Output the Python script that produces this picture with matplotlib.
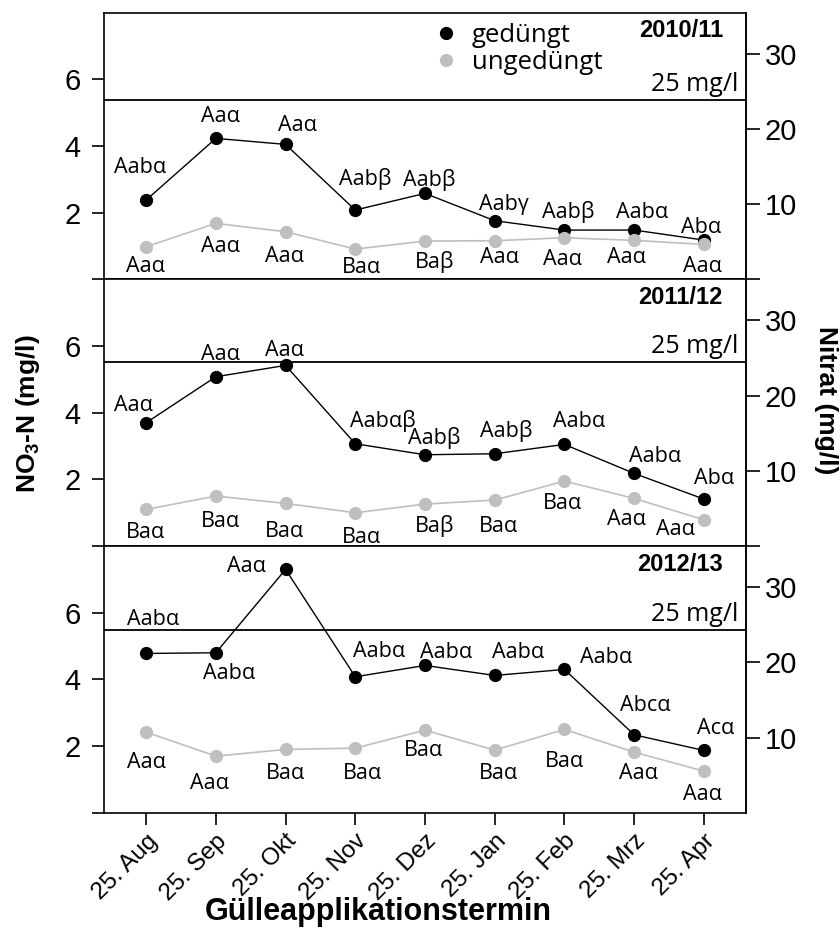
import matplotlib.pyplot as plt
from matplotlib.lines import Line2D

plt.rcParams['font.family'] = ['Liberation Sans', 'DejaVu Sans']
plt.rcParams['mathtext.fontset'] = 'custom'
plt.rcParams['mathtext.rm'] = 'Liberation Sans'
plt.rcParams['mathtext.bf'] = 'Liberation Sans:bold'

termine = ['25. Aug', '25. Sep', '25. Okt', '25. Nov', '25. Dez',
           '25. Jan', '25. Feb', '25. Mrz', '25. Apr']
jahre = ['2010/11', '2011/12', '2012/13']

# NO3-N (mg/l)
ged_2010 = [2.38, 4.23, 4.05, 2.08, 2.58, 1.76, 1.48, 1.48, 1.18]
ung_2010 = [0.98, 1.68, 1.43, 0.91, 1.15, 1.16, 1.25, 1.17, 1.05]
ged_2011 = [3.70, 5.08, 5.42, 3.07, 2.74, 2.77, 3.05, 2.18, 1.41]
ung_2011 = [1.10, 1.50, 1.28, 1.00, 1.26, 1.38, 1.95, 1.43, 0.79]
ged_2012 = [4.78, 4.80, 7.30, 4.08, 4.42, 4.12, 4.30, 2.34, 1.87]
ung_2012 = [2.42, 1.70, 1.90, 1.94, 2.48, 1.88, 2.50, 1.82, 1.25]

# signifikanz buchstaben
sig_ged_2010 = ['Aabα', 'Aaα', 'Aaα', 'Aabβ', 'Aabβ', 'Aabγ', 'Aabβ', 'Aabα', 'Abα']
sig_ung_2010 = ['Aaα', 'Aaα', 'Aaα', 'Baα', 'Baβ', 'Aaα', 'Aaα', 'Aaα', 'Aaα']
sig_ged_2011 = ['Aaα', 'Aaα', 'Aaα', 'Aabαβ', 'Aabβ', 'Aabβ', 'Aabα', 'Aabα', 'Abα']
sig_ung_2011 = ['Baα', 'Baα', 'Baα', 'Baα', 'Baβ', 'Baα', 'Baα', 'Aaα', 'Aaα']
sig_ged_2012 = ['Aabα', 'Aabα', 'Aaα', 'Aabα', 'Aabα', 'Aabα', 'Aabα', 'Abcα', 'Acα']
sig_ung_2012 = ['Aaα', 'Aaα', 'Baα', 'Baα', 'Baα', 'Baα', 'Baα', 'Aaα', 'Aaα']

# 25 mg/l nitrat grenze (in NO3-N wie im bild)
grenze = [5.38, 5.52, 5.47]
faktor = 4.43  # NO3-N -> Nitrat

# label versatz in pixel (dx, dy nach unten)
off_ged = [
    [(-6.5, -33), (5, -22), (12, -19), (10, -31), (4.5, -13), (9, -16), (3.5, -18), (8, -18), (-2.6, -13)],
    [(-13, -17), (5, -22), (-1, -15), (28, -23), (9.5, -17), (11, -23), (15, -23), (21, -17), (10, -21)],
    [(6.5, -34), (13, 21), (-39, -3), (24, -25), (21, -13), (23, -23), (42, -12), (11, -29), (12, -22)],
]
off_ung = [
    [(-1, 20), (5, 23), (-1, 25), (6, 18), (9.5, 21), (5, 17), (-2, 22), (-8, 17), (-1.3, 22)],
    [(-1, 23), (5, 25), (-1.5, 28), (6.5, 25), (9.5, 22), (3.5, 26), (-2, 22.6), (-8, 21), (-28, 10)],
    [(0, 30), (-6, 27), (0, 24), (7, 25), (-2, 20), (4, 23), (0, 32), (4, 21), (-1, 23)],
]

ged = [ged_2010, ged_2011, ged_2012]
ung = [ung_2010, ung_2011, ung_2012]
sig_ged = [sig_ged_2010, sig_ged_2011, sig_ged_2012]
sig_ung = [sig_ung_2010, sig_ung_2011, sig_ung_2012]

grau = '#bfbfbf'
label_font = ['Open Sans', 'DejaVu Sans']

fig = plt.figure(figsize=(8.4, 9.41), dpi=100)
links = 104.3 / 840
breite = 641.4 / 840
hoehe = 266.7 / 941
oben = 12.7 / 941

x = list(range(len(termine)))
for i in range(3):
    unten = 1 - oben - (i + 1) * hoehe
    ax = fig.add_axes([links, unten, breite, hoehe])
    ax.set_xlim(-0.6, 8.6)
    ax.set_ylim(0, 8)
    for s in ax.spines.values():
        s.set_linewidth(1.2)

    ax.axhline(grenze[i], color='black', lw=1.3, zorder=1)
    ax.annotate('25 mg/l', xy=(0.988, grenze[i]), xycoords=('axes fraction', 'data'),
                xytext=(0, 3), textcoords='offset pixels', ha='right', va='bottom',
                fontsize=18, family=label_font)

    ax.plot(x, ged[i], color='black', lw=1.0, marker='o', ms=8.5, zorder=3)
    ax.plot(x, ung[i], color=grau, lw=1.2, marker='o', ms=8.5, mec=grau, zorder=4)

    for j in x:
        dx, dy = off_ged[i][j]
        ax.annotate(sig_ged[i][j], (j, ged[i][j]), xytext=(dx, -dy), textcoords='offset pixels',
                    ha='center', va='center', fontsize=15.5, family=label_font, zorder=5)
        dx, dy = off_ung[i][j]
        ax.annotate(sig_ung[i][j], (j, ung[i][j]), xytext=(dx, -dy), textcoords='offset pixels',
                    ha='center', va='center', fontsize=15.5, family=label_font, zorder=5)

    ax.text(0.9646, 0.932, jahre[i], transform=ax.transAxes, ha='right', va='center',
            fontsize=17, fontweight='bold')

    ax.set_yticks([0, 2, 4, 6])
    ax.set_yticklabels(['', '2', '4', '6'])
    ax.tick_params(axis='y', direction='out', length=9, width=1.2, labelsize=21, pad=8)

    sec = ax.secondary_yaxis('right', functions=(lambda v: v * faktor, lambda v: v / faktor))
    if i < 2:
        sec.set_yticks([0, 10, 20, 30])
        sec.set_yticklabels(['', '10', '20', '30'])
    else:
        sec.set_yticks([10, 20, 30])
    sec.tick_params(direction='out', length=10, width=1.2, labelsize=21, pad=3.5)
    sec.spines['right'].set_linewidth(1.2)

    if i == 0:
        handles = [Line2D([], [], ls='none', marker='o', ms=8.5, color='black', label='gedüngt'),
                   Line2D([], [], ls='none', marker='o', ms=8.5, color=grau, label='ungedüngt')]
        leg = ax.legend(handles=handles, loc='upper left', bbox_to_anchor=(0.5128, 0.962),
                        frameon=False, borderpad=0, borderaxespad=0, handlelength=1.0,
                        handletextpad=0.5, labelspacing=0.1, prop={'family': label_font, 'size': 18.5})

    if i < 2:
        ax.tick_params(axis='x', bottom=False, labelbottom=False)
    else:
        ax.set_xticks(x)
        ax.set_xticklabels(termine, rotation=45, ha='right', va='top', rotation_mode='anchor',
                           fontsize=17.5)
        ax.tick_params(axis='x', direction='out', length=8.5, width=1.2, pad=4)

fig.text(28 / 840, 1 - 414 / 941, r'NO$_{\mathbf{3}}$-N (mg/l)', rotation=90,
         ha='center', va='center', fontsize=19, fontweight='bold')
fig.text(826 / 840, 1 - 400 / 941, 'Nitrat (mg/l)', rotation=270,
         ha='center', va='center', fontsize=19, fontweight='bold')
fig.text(378 / 840, 1 - 912 / 941, 'Gülleapplikationstermin', ha='center', va='center',
         fontsize=22, fontweight='bold')

fig.savefig('out.png', dpi=100)
